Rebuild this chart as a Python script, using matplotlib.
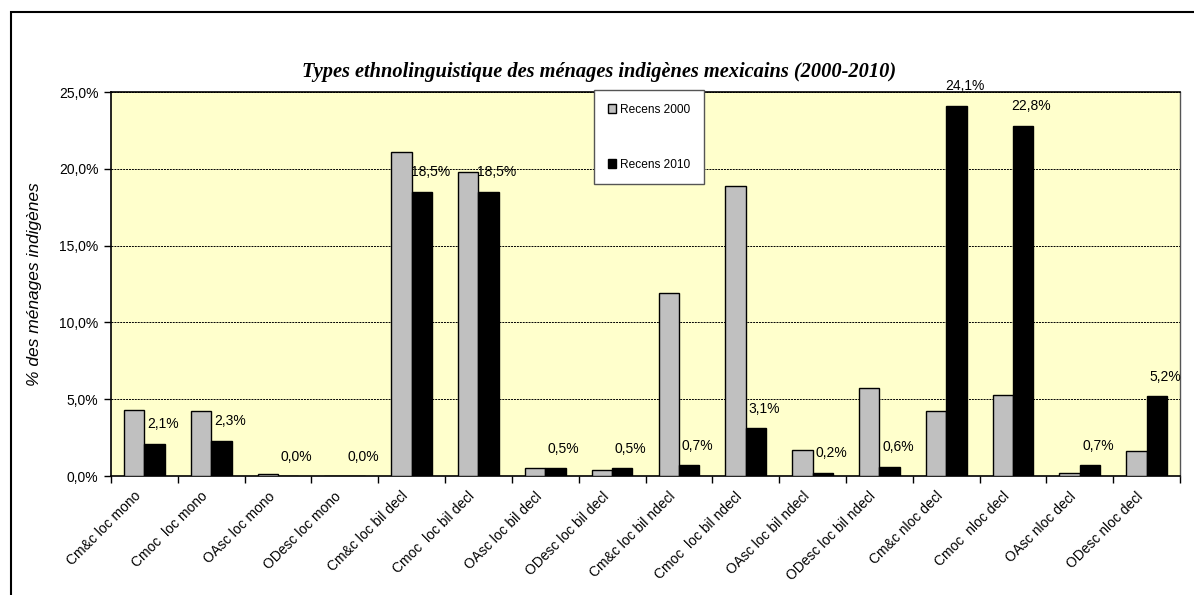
import matplotlib
matplotlib.use("Agg")
import matplotlib.pyplot as plt
from matplotlib.patches import Rectangle, Patch
import numpy as np

categories = ["Cm&c loc mono", "Cmoc  loc mono", "OAsc loc mono", "ODesc loc mono",
              "Cm&c loc bil decl", "Cmoc  loc bil decl", "OAsc loc bil decl", "ODesc loc bil decl",
              "Cm&c loc bil ndecl", "Cmoc  loc bil ndecl", "OAsc loc bil ndecl", "ODesc loc bil ndecl",
              "Cm&c nloc decl", "Cmoc  nloc decl", "OAsc nloc decl", "ODesc nloc decl"]
recens_2000 = [4.3, 4.2, 0.1, 0.0, 21.1, 19.8, 0.5, 0.4, 11.9, 18.9, 1.7, 5.7, 4.2, 5.3, 0.2, 1.6]
recens_2010 = [2.1, 2.3, 0.0, 0.0, 18.5, 18.5, 0.5, 0.5, 0.7, 3.1, 0.2, 0.6, 24.1, 22.8, 0.7, 5.2]
series_names = ["Recens 2000", "Recens 2010"]
yticks = [0, 5, 10, 15, 20, 25]

W, H = 1194, 595
fig = plt.figure(figsize=(W / 100, H / 100), dpi=100)
fig.patch.set_facecolor("white")
ax = fig.add_axes([111 / W, 1 - 476 / H, (1180 - 111) / W, (476 - 92) / H])
ax.set_facecolor("#FFFFCC")

font = "Liberation Sans"
x = np.arange(len(categories))
bw = 0.305
ax.bar(x - bw / 2, recens_2000, bw, color="#C0C0C0", edgecolor="black", linewidth=1.0, zorder=3)
ax.bar(x + bw / 2, recens_2010, bw, color="black", edgecolor="black", linewidth=1.0, zorder=3)

ax.set_xlim(-0.5, len(categories) - 0.5)
ax.set_ylim(0, 25)
ax.set_yticks(yticks)
ax.set_yticklabels([f"{v:.1f}".replace(".", ",") + "%" for v in yticks],
                   fontname=font, fontsize=10)
ax.yaxis.grid(True, linestyle=(0, (2, 1)), color="black", linewidth=0.7, zorder=1)
ax.set_axisbelow(True)

ax.set_xticks(np.arange(len(categories) + 1) - 0.5)
ax.set_xticklabels([])
ax.tick_params(axis="x", direction="out", length=5, width=1)
ax.tick_params(axis="y", direction="out", length=5, width=1, pad=4)
for i, lab in enumerate(categories):
    ax.annotate(lab, xy=(i, 0), xycoords=("data", "axes fraction"),
                xytext=(-4, -13), textcoords="offset points",
                rotation=45, ha="right", va="center", rotation_mode="anchor",
                fontname=font, fontsize=10)

for sp in ["left", "bottom", "top"]:
    ax.spines[sp].set_color("black")
    ax.spines[sp].set_linewidth(1.2)
ax.spines["right"].set_color("#555555")
ax.spines["right"].set_linewidth(1.0)

for i, v in enumerate(recens_2010):
    ax.annotate(f"{v:.1f}".replace(".", ",") + "%", xy=(i + bw / 2, v),
                xytext=(6, 14), textcoords="offset points",
                ha="center", va="center", fontname=font, fontsize=10, zorder=5)

ax.set_ylabel("% des ménages indigènes", fontname=font, fontsize=12.5, style="italic",
              labelpad=12)

fig.text(599 / W, 1 - 72 / H,
         "Types ethnolinguistique des ménages indigènes mexicains (2000-2010)",
         ha="center", va="center", fontname="Liberation Serif", fontsize=14.7,
         fontweight="bold", style="italic")

handles = [Patch(facecolor="#C0C0C0", edgecolor="black"),
           Patch(facecolor="black", edgecolor="black")]
leg = ax.legend(handles, series_names, loc="upper left",
                bbox_to_anchor=(594 / W, 1 - 90 / H), bbox_transform=fig.transFigure,
                prop={"family": font, "size": 8.6}, frameon=True, fancybox=False,
                framealpha=1, edgecolor="#555555", handlelength=0.7, handleheight=0.7,
                handletextpad=0.3, labelspacing=3.6, borderpad=1.15, borderaxespad=0)
leg.get_frame().set_linewidth(1.0)
leg.set_zorder(10)

frame = Rectangle((11 / W, -0.2), 1.2, 1 - 12 / H + 0.2, transform=fig.transFigure,
                  fill=False, edgecolor="black", linewidth=1.5, clip_on=False)
fig.add_artist(frame)

fig.savefig("out.png", dpi=100)
